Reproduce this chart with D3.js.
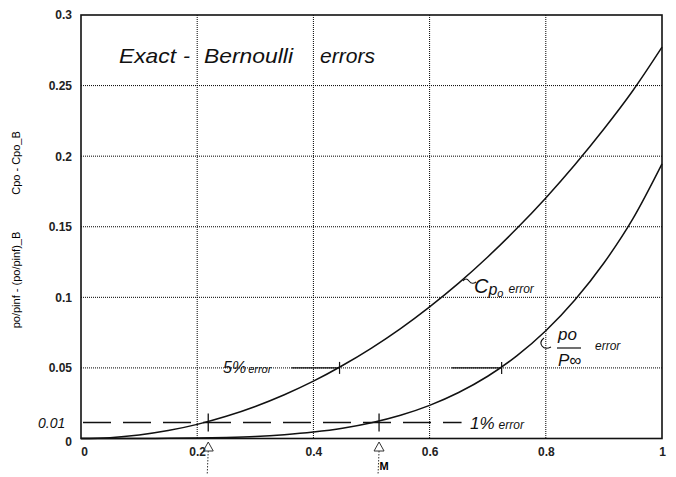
<!DOCTYPE html>
<html>
<head>
<meta charset="utf-8">
<script src="https://cdn.jsdelivr.net/npm/d3@7"></script>
<style>
  body { margin: 0; background: #fff; }
  svg { display: block; }
  .tick text { font-family: "Liberation Sans", Arial, sans-serif; font-size: 12px; font-weight: bold; fill: #222; }
  .hand { font-family: "Liberation Sans", Arial, sans-serif; font-style: italic; fill: #111; }
</style>
</head>
<body>
<svg id="scene" width="676" height="477"></svg>
<script>
// Mach numbers and the two error curves
const machNumbers = [0, 0.05, 0.1, 0.15, 0.2, 0.25, 0.3, 0.35, 0.4, 0.45, 0.5,
  0.55, 0.6, 0.65, 0.7, 0.75, 0.8, 0.85, 0.9, 0.95, 1];
const cpoError = [0, 0.0006, 0.0025, 0.0056, 0.0100, 0.0157, 0.0227, 0.0310, 0.0406, 0.0517, 0.0641,
  0.0779, 0.0933, 0.1101, 0.1286, 0.1487, 0.1704, 0.1939, 0.2192, 0.2465, 0.2772];
const poError = [0, 0, 0.00002, 0.0001, 0.0003, 0.0007, 0.0014, 0.0027, 0.0046, 0.0073, 0.0112,
  0.0165, 0.0235, 0.0326, 0.0441, 0.0585, 0.0763, 0.0981, 0.1243, 0.1557, 0.1945];

const xTicks = [0, 0.2, 0.4, 0.6, 0.8, 1];
const yTicks = [0, 0.05, 0.1, 0.15, 0.2, 0.25, 0.3];

// hand drawn marks: error level and the Mach numbers where curves cross it
const onePctLevel = 0.01;
const onePctMach = [0.219, 0.513];
const fivePctLevel = 0.05;
const fivePctMach = [0.445, 0.724];

let scaleX = d3.scaleLinear().domain([0, 1]).range([81, 662]);
let scaleY = d3.scaleLinear().domain([0, 0.3]).range([438.5, 15]);

const svg = d3.select('#scene');

// dotted grid
svg.append('g').selectAll('line').data(xTicks.slice(1, -1)).join('line')
  .attr('x1', d => scaleX(d)).attr('x2', d => scaleX(d))
  .attr('y1', scaleY(0.3)).attr('y2', scaleY(0))
  .attr('stroke', '#000').attr('stroke-width', 1).attr('stroke-dasharray', '1,1');
svg.append('g').selectAll('line').data(yTicks.slice(1, -1)).join('line')
  .attr('x1', scaleX(0)).attr('x2', scaleX(1))
  .attr('y1', d => scaleY(d)).attr('y2', d => scaleY(d))
  .attr('stroke', '#000').attr('stroke-width', 1).attr('stroke-dasharray', '1,1');

// frame
svg.append('rect')
  .attr('x', scaleX(0)).attr('y', scaleY(0.3))
  .attr('width', scaleX(1) - scaleX(0)).attr('height', scaleY(0) - scaleY(0.3))
  .attr('fill', 'none').attr('stroke', '#111').attr('stroke-width', 1.6);

// axes (labels only)
let xAxis = svg.append('g').attr('transform', `translate(0,${scaleY(0)})`)
  .call(d3.axisBottom(scaleX).tickValues(xTicks).tickSize(0).tickPadding(9).tickFormat(d3.format('')));
xAxis.select('.domain').remove();
xAxis.selectAll('.tick').filter(d => d === 0).select('text').attr('dx', 3);

let yAxis = svg.append('g').attr('transform', `translate(${scaleX(0)},0)`)
  .call(d3.axisLeft(scaleY).tickValues(yTicks).tickSize(0).tickPadding(9).tickFormat(d3.format('')));
yAxis.select('.domain').remove();
yAxis.selectAll('.tick').filter(d => d === 0).select('text').attr('dy', '0.6em');

// axis titles
svg.append('text')
  .attr('transform', 'translate(20,163) rotate(-90)')
  .attr('text-anchor', 'middle')
  .style('font-family', '"Liberation Sans", Arial, sans-serif').style('font-size', '11px')
  .text('Cpo - Cpo_B');
svg.append('text')
  .attr('transform', 'translate(20,280) rotate(-90)')
  .attr('text-anchor', 'middle')
  .style('font-family', '"Liberation Sans", Arial, sans-serif').style('font-size', '11px')
  .text('po/pinf - (po/pinf)_B');
svg.append('text')
  .attr('x', 384).attr('y', 470).attr('text-anchor', 'middle')
  .style('font-family', '"Liberation Sans", Arial, sans-serif').style('font-size', '11px').style('font-weight', 'bold')
  .text('M');

// curves
let line = d3.line()
  .x((d, i) => scaleX(machNumbers[i]))
  .y(d => scaleY(d))
  .curve(d3.curveMonotoneX);

[cpoError, poError].forEach(series => {
  svg.append('path').datum(series)
    .attr('d', line)
    .attr('fill', 'none').attr('stroke', '#111').attr('stroke-width', 1.5);
});

// 1% dashed line with crossing ticks
svg.append('line')
  .attr('x1', scaleX(0) + 2).attr('x2', scaleX(0.655))
  .attr('y1', scaleY(onePctLevel) - 2).attr('y2', scaleY(onePctLevel) - 2)
  .attr('stroke', '#111').attr('stroke-width', 1.5).attr('stroke-dasharray', '28,12');
svg.append('g').selectAll('line').data(onePctMach).join('line')
  .attr('x1', d => scaleX(d)).attr('x2', d => scaleX(d))
  .attr('y1', scaleY(onePctLevel) - 11).attr('y2', scaleY(onePctLevel) + 7)
  .attr('stroke', '#111').attr('stroke-width', 1.3);

// 5% solid segments ending in crossing ticks
svg.append('g').selectAll('line').data(fivePctMach).join('line')
  .attr('x1', (d, i) => scaleX(d) - (i === 0 ? 48 : 50)).attr('x2', d => scaleX(d))
  .attr('y1', scaleY(fivePctLevel)).attr('y2', scaleY(fivePctLevel))
  .attr('stroke', '#111').attr('stroke-width', 1.4);
svg.append('g').selectAll('line').data(fivePctMach).join('line')
  .attr('x1', d => scaleX(d)).attr('x2', d => scaleX(d))
  .attr('y1', scaleY(fivePctLevel) - 6).attr('y2', scaleY(fivePctLevel) + 6)
  .attr('stroke', '#111').attr('stroke-width', 1.2);

// handwritten notes
let title = svg.append('text').attr('class', 'hand').attr('y', 63).style('font-size', '21px');
title.append('tspan').attr('x', 119).attr('textLength', 57).attr('lengthAdjust', 'spacingAndGlyphs').text('Exact');
title.append('tspan').attr('x', 183).text('-');
title.append('tspan').attr('x', 204).attr('textLength', 89).attr('lengthAdjust', 'spacingAndGlyphs').text('Bernoulli');
title.append('tspan').attr('x', 320).attr('textLength', 55).attr('lengthAdjust', 'spacingAndGlyphs').text('errors');

svg.append('text').attr('class', 'hand').attr('x', 38).attr('y', 428)
  .style('font-size', '14px').text('0.01');

let five = svg.append('text').attr('class', 'hand').attr('x', 223).attr('y', 373);
five.append('tspan').style('font-size', '16px').text('5%');
five.append('tspan').style('font-size', '11px').attr('dx', 2).text('error');

let one = svg.append('text').attr('class', 'hand').attr('x', 470).attr('y', 429);
one.append('tspan').style('font-size', '17px').text('1%');
one.append('tspan').style('font-size', '12px').attr('dx', 4).text('error');

let cp = svg.append('text').attr('class', 'hand').attr('x', 474).attr('y', 293);
cp.append('tspan').style('font-size', '20px').text('C');
cp.append('tspan').style('font-size', '16px').attr('dy', 2).text('p');
cp.append('tspan').style('font-size', '11px').attr('dy', 2).text('o');
cp.append('tspan').style('font-size', '12px').attr('dx', 5).attr('dy', -4).text('error');
svg.append('path').attr('d', 'M463,281 q3,-4 6,0 t7,1')
  .attr('fill', 'none').attr('stroke', '#111').attr('stroke-width', 1.1);

svg.append('text').attr('class', 'hand').attr('x', 558).attr('y', 340)
  .style('font-size', '17px').text('po');
svg.append('line').attr('x1', 557).attr('x2', 581).attr('y1', 348).attr('y2', 348)
  .attr('stroke', '#111').attr('stroke-width', 1.2);
svg.append('text').attr('class', 'hand').attr('x', 558).attr('y', 366)
  .style('font-size', '17px').text('P∞');
svg.append('text').attr('class', 'hand').attr('x', 595).attr('y', 350)
  .style('font-size', '12px').text('error');
svg.append('path').attr('d', 'M544,338 q-5,4 -2,8 t9,1')
  .attr('fill', 'none').attr('stroke', '#111').attr('stroke-width', 1.1);

// little hand arrows under the axis
[0.219, 0.513].forEach(m => {
  let x = scaleX(m);
  svg.append('path').attr('d', `M${x - 5},451 L${x},442 L${x + 5},451 Z`)
    .attr('fill', 'none').attr('stroke', '#333').attr('stroke-width', 1);
  svg.append('line').attr('x1', x).attr('x2', x - 1).attr('y1', 451).attr('y2', 474)
    .attr('stroke', '#333').attr('stroke-width', 1).attr('stroke-dasharray', '1.5,1.5');
});
</script>
</body>
</html>
